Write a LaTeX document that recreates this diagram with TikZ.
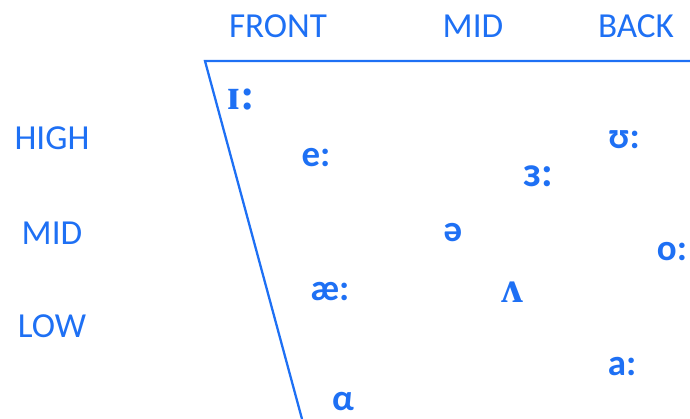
\documentclass[tikz,border=0pt]{standalone}
\usepackage{fontspec}
\setmainfont{Carlito}
\newfontfamily\ipaserif{Liberation Serif}
\usepackage{tikz}
\usetikzlibrary{positioning}
\definecolor{vowelblue}{RGB}{30,112,244}

\begin{document}
\begin{tikzpicture}[
    x=0.02cm, y=-0.02cm,
    every node/.style={text=vowelblue, inner sep=0pt},
    axislabel/.style={font=\fontsize{20}{22}\selectfont},
    vowel/.style={font=\fontsize{21}{24}\selectfont\bfseries},
    ipavowel/.style={font=\fontsize{25}{28}\selectfont\ipaserif\bfseries},
    chartline/.style={draw=vowelblue, line width=1.3pt}
]
\useasboundingbox (0,0) rectangle (690,419);

% Axis labels
\node (front) [axislabel] at (278,26) {FRONT};
\node (midcol) [axislabel] at (473,26) {MID};
\node (back) [axislabel] at (636,26) {BACK};
\node (high) [axislabel] at (52,138) {HIGH};
\node (midrow) [axislabel] at (52,233) {MID};
\node (low) [axislabel] at (52,326) {LOW};

% Chart outline
\coordinate (tl) at (205,61);
\coordinate (tr) at (690,61);
\coordinate (bl) at (302,419);
\draw [chartline] (tr) -- (tl) -- (bl);

% Vowels
\node (ih) [ipavowel] at (241,100) {ɪ:};
\node (ee) [vowel] at (316,158) {e:};
\node (uh) [vowel] at (624,140) {ʊ:};
\node (er) [vowel, font=\fontsize{24}{26}\selectfont\bfseries] at (538,176) {ɜ:};
\node (schwa) [vowel] at (453,233) {ə};
\node (oo) [vowel] at (672,252) {o:};
\node (ae) [vowel] at (330,292) {æ:};
\node (wedge) [ipavowel] at (512,292) {ʌ};
\node (aa) [vowel] at (622,367) {a:};
\node (alpha) [vowel] at (343,402) {α};

\end{tikzpicture}
\end{document}
